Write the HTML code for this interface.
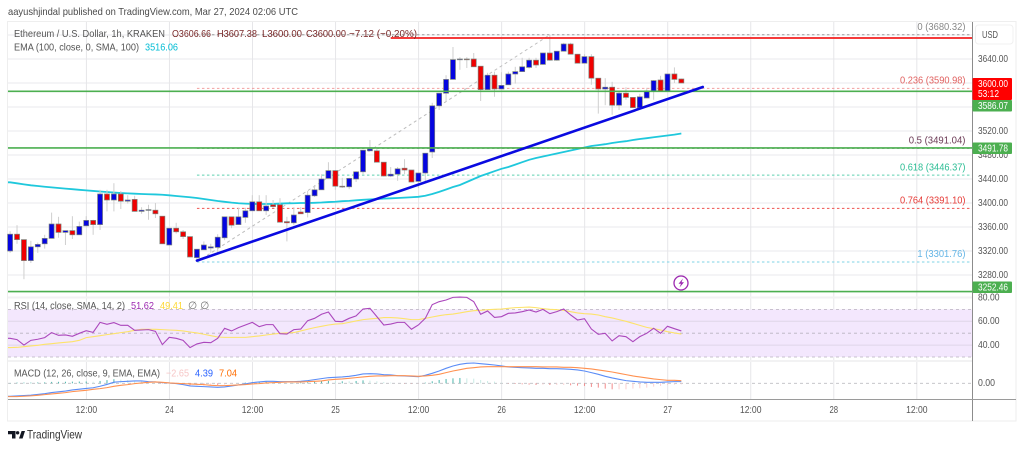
<!DOCTYPE html>
<html lang="en">
<head>
<meta charset="utf-8">
<title>ETH/USD 1h chart</title>
<style>
html,body{margin:0;padding:0;background:#fff;width:1024px;height:449px;overflow:hidden}
svg{display:block}
text{font-family:"Liberation Sans",sans-serif;font-size:10.5px;fill:#555;dominant-baseline:middle}
</style>
</head>
<body>
<svg id="chart" width="1024" height="449" viewBox="0 0 1024 449" xmlns="http://www.w3.org/2000/svg">
  <rect x="7.5" y="21.5" width="1008.5" height="399.5" fill="#fff" stroke="#eeeeee"/>
  <g id="grid"></g>
  <rect x="8" y="296.5" width="964" height="2" fill="#f2f2f3"/>
  <rect x="8" y="360" width="964" height="2" fill="#f2f2f3"/>
  <g id="rsi-band"></g>
  <g id="fib"></g>
  <g id="ema"></g>
  <g id="candles"></g>
  <g id="levels"></g>
  <g id="rsi"></g>
  <g id="macd"></g>

  <line x1="972.5" y1="22" x2="972.5" y2="421" stroke="#8c8c8c"/>
  <line x1="8" y1="399.5" x2="1016" y2="399.5" stroke="#9a9a9a"/>
  <g id="axes"></g>

  <text x="8" y="12" textLength="290" lengthAdjust="spacingAndGlyphs" fill="#444" style="fill:#4a4a4a">aayushjindal published on TradingView.com, Mar 27, 2024 02:06 UTC</text>

  <text x="14" y="34" textLength="151" lengthAdjust="spacingAndGlyphs">Ethereum / U.S. Dollar, 1h, KRAKEN</text>
  <text x="172" y="34" textLength="39" lengthAdjust="spacingAndGlyphs" style="fill:#7a2a2a">O3606.66</text>
  <text x="217" y="34" textLength="40" lengthAdjust="spacingAndGlyphs" style="fill:#7a2a2a">H3607.38</text>
  <text x="262" y="34" textLength="40" lengthAdjust="spacingAndGlyphs" style="fill:#7a2a2a">L3600.00</text>
  <text x="306" y="34" textLength="40" lengthAdjust="spacingAndGlyphs" style="fill:#7a2a2a">C3600.00</text>
  <text x="349" y="34" textLength="68" lengthAdjust="spacingAndGlyphs" style="fill:#7a2a2a">−7.12 (−0.20%)</text>
  <text x="14" y="47.5" textLength="125" lengthAdjust="spacingAndGlyphs">EMA (100, close, 0, SMA, 100)</text>
  <text x="145" y="47.5" textLength="33" lengthAdjust="spacingAndGlyphs" style="fill:#00bcd4">3516.06</text>

  <text x="14" y="306" textLength="111" lengthAdjust="spacingAndGlyphs">RSI (14, close, SMA, 14, 2)</text>
  <text x="131" y="306" textLength="23" lengthAdjust="spacingAndGlyphs" style="fill:#9c27b0">51.62</text>
  <text x="160" y="306" textLength="23" lengthAdjust="spacingAndGlyphs" style="fill:#fdd835">49.41</text>
  <text x="188" y="306" style="fill:#777">∅ ∅</text>

  <text x="14" y="373.5" textLength="146" lengthAdjust="spacingAndGlyphs">MACD (12, 26, close, 9, EMA, EMA)</text>
  <text x="166" y="373.5" textLength="23" lengthAdjust="spacingAndGlyphs" style="fill:#f7c6c6">−2.65</text>
  <text x="195" y="373.5" textLength="18" lengthAdjust="spacingAndGlyphs" style="fill:#2962ff">4.39</text>
  <text x="219" y="373.5" textLength="18" lengthAdjust="spacingAndGlyphs" style="fill:#ff6d00">7.04</text>

  <rect x="975.5" y="25" width="37.5" height="19" rx="3" fill="#fff" stroke="#f0f0f0"/>
  <text x="982" y="35" textLength="16" lengthAdjust="spacingAndGlyphs">USD</text>

  <rect x="972.5" y="78" width="39.5" height="22" rx="1" fill="#ff0000"/>
  <text x="978" y="84" textLength="30" lengthAdjust="spacingAndGlyphs" style="fill:#fff">3600.00</text>
  <text x="978" y="94" textLength="21" lengthAdjust="spacingAndGlyphs" style="fill:#fff">53:12</text>
  <rect x="972.5" y="100" width="39.5" height="11.5" rx="1" fill="#4caf50"/>
  <text x="978" y="106" textLength="30" lengthAdjust="spacingAndGlyphs" style="fill:#fff">3586.07</text>
  <rect x="972.5" y="142.5" width="39.5" height="11.5" rx="1" fill="#4caf50"/>
  <text x="978" y="148.5" textLength="30" lengthAdjust="spacingAndGlyphs" style="fill:#fff">3491.78</text>
  <rect x="972.5" y="281.5" width="39.5" height="11.5" rx="1" fill="#4caf50"/>
  <text x="978" y="287.5" textLength="30" lengthAdjust="spacingAndGlyphs" style="fill:#fff">3252.46</text>

  <g>
    <circle cx="681" cy="283" r="7" fill="#fff" stroke="#9c27b0" stroke-width="1.3"/>
    <polygon points="683,278.5 678.5,283.8 681,283.8 679.5,287.5 684,282.2 681.5,282.2" fill="#9c27b0"/>
  </g>

  <g>
    <polygon points="8,431 15.5,431 15.5,438.5 12,438.5 12,434.2 8,434.2" fill="#131722"/>
    <circle cx="17.6" cy="432.8" r="1.7" fill="#131722"/>
    <polygon points="19,438.5 21.6,431 25,431 22.6,438.5" fill="#131722"/>
    <text x="27" y="435.5" textLength="55" lengthAdjust="spacingAndGlyphs" style="font-size:12px;fill:#333">TradingView</text>
  </g>
</svg>

<script>
const opens = [3320,3348,3339,3304,3327,3332,3341,3365,3351,3354,3347,3362,3371,3364,3415,3405,3415,3403,3406,3386,3388,3388,3378,3330,3358,3352,3344,3309,3322,3325,3326,3342,3377,3364,3376,3387,3402,3387,3397,3397,3369,3367,3385,3384,3412,3422,3441,3454,3428,3427,3440,3452,3487,3487,3468,3445,3448,3458,3455,3436,3450,3485,3562,3583,3606,3639,3640,3640,3628,3589,3613,3590,3597,3615,3619,3626,3638,3631,3650,3638,3653,3665,3648,3633,3644,3608,3590,3593,3563,3583,3576,3559,3575,3587,3605,3587,3615,3606.66];
const highs = [3353,3363,3339,3337,3334,3347,3384,3377,3354,3378,3369,3378,3372,3422,3422,3433,3420,3413,3412,3393,3397,3400,3378,3358,3367,3355,3344,3323,3336,3332,3348,3377,3377,3392,3392,3413,3413,3413,3405,3408,3377,3393,3393,3420,3430,3448,3468,3455,3442,3442,3453,3488,3505,3492,3468,3460,3460,3473,3455,3450,3483,3567,3583,3613,3660,3643,3643,3650,3628,3617,3619,3618,3619,3627,3642,3642,3642,3650,3680,3653,3667,3667,3648,3648,3648,3608,3608,3602,3586,3593,3576,3582,3592,3605,3612,3615,3626,3607.38];
const lows = [3317,3332,3273,3300,3317,3324,3341,3342,3330,3340,3347,3361,3347,3355,3386,3386,3390,3399,3386,3382,3372,3375,3332,3330,3349,3340,3310,3304,3322,3317,3317,3338,3358,3364,3367,3387,3387,3380,3392,3368,3336,3363,3382,3376,3410,3422,3441,3422,3425,3423,3435,3448,3487,3468,3444,3443,3437,3448,3435,3425,3435,3475,3555,3569,3606,3622,3625,3627,3570,3589,3577,3590,3597,3599,3619,3624,3625,3630,3637,3637,3653,3648,3633,3633,3597,3549,3563,3547,3555,3572,3559,3555,3575,3572,3587,3587,3600,3600];
const closes = [3348,3339,3304,3327,3331,3341,3365,3351,3354,3347,3361,3371,3364,3415,3405,3415,3403,3405,3386,3388,3389,3382,3332,3358,3352,3344,3310,3323,3330,3327,3343,3377,3363,3377,3387,3402,3387,3395,3394,3368,3367,3380,3382,3413,3422,3440,3454,3428,3427,3441,3452,3488,3490,3468,3445,3448,3457,3455,3435,3450,3483,3562,3583,3606,3639,3640,3639,3627,3589,3613,3590,3596,3615,3619,3627,3638,3630,3650,3638,3653,3665,3648,3633,3644,3608,3590,3593,3563,3583,3576,3559,3577,3587,3604,3587,3615,3606,3600];
const ema100 = [3434.5,3432.8,3431.1,3429.5,3428.3,3427.1,3426,3425,3424,3423,3422,3421,3420.1,3419.1,3418.3,3417.5,3416.6,3416,3415.5,3415,3414.6,3414.3,3413.8,3412.8,3411.6,3410.6,3409.6,3408.3,3406.6,3405,3403.3,3402,3400.6,3399.6,3399,3398.5,3398.3,3398.3,3398.6,3399.1,3399.5,3399.6,3400,3400,3400.3,3400.8,3401.6,3402.1,3403,3403.6,3404.5,3405.3,3406,3406.6,3407.3,3407.8,3408.3,3409,3409.6,3410.3,3412,3415,3418.6,3422.5,3426.6,3430,3435,3440,3445,3449,3453,3457,3460,3464,3468,3472,3475,3477.5,3480,3482.5,3485,3487.5,3490,3492.5,3495,3496.5,3498,3500,3501.6,3503,3505,3506.6,3508,3509.6,3511,3512.5,3514,3515.8];
const rsiValues = [45.7,44.6,40,44,44.9,46.3,50.5,48.2,48.5,47.4,49.9,52.1,50.7,59.1,57.5,58.9,56.6,56.6,52.4,52.7,53,51.6,40.4,46.5,45.7,44,37.9,41,42.3,42,45.7,54.1,51.9,54.7,56.9,59.1,55.5,57.2,57.2,49.6,49.3,53,53.5,60.5,62.5,65.9,67.8,60,59.7,62.5,64.5,70.3,70.9,63.9,56.9,57.7,59.1,59.1,53.3,56.9,62.5,74,76.5,77.9,80.1,80.4,80.1,76.5,65.9,68.7,63.3,63.9,66.7,67,68.1,69.5,67.8,70,66.4,68.1,70.3,65.3,61.1,62.2,53.5,49.1,49.9,43.5,47.9,47.1,42.9,47.1,49.9,54.1,49.9,55.8,53.8,51.9];
const rsiMa = [37.9,38.1,38.7,39.3,39.8,40.7,41.2,41.8,42.3,42.9,44,46.3,47.1,47.9,48.8,49.6,50.5,51.3,52.4,53.3,53.3,53.3,53,52.7,52.4,51.9,51,50.2,49.1,47.9,46.8,46.5,46.5,46.5,46.5,47.1,47.7,48.5,49.3,49.9,50.2,50.5,51.9,53.3,54.7,55.8,56.9,57.7,58,59.1,60.3,61.4,62,62.5,63.1,63.1,62.8,62.2,61.4,61.4,62.5,63.6,64.7,65.6,66.1,67,68.1,68.9,69.2,69.8,70.1,70.3,70.9,71.5,71.7,72,71.5,70.6,70.1,69.8,69.2,68.1,67,66.4,66.1,65.3,63.9,62.8,61.4,60,58.3,56.6,54.9,53.8,52.7,51.3,50.2,49.3];
const macdLine = [-35,-34,-33,-32,-30,-28,-25,-23,-21,-18,-16,-14,-12,-8,-3,3,4.5,5.4,6.3,6.3,4.5,3.6,1.8,0.9,-0.9,-3.6,-7.2,-8.1,-9,-9.9,-10.8,-9.9,-7.2,-4.5,-1.8,1.8,3.6,5.4,5.4,4.5,4.5,4.5,5.4,7.2,9.9,12.6,15.3,16.2,17.1,18.9,21.6,25.2,26.1,25.2,23.4,22.5,20.7,19.8,18.9,18,21.6,27,33.3,40.5,46.8,51.3,54,54.9,53.1,51.3,49.5,46.8,44.1,43.2,42.3,41.4,40.5,40.5,39.6,39.6,38.7,37.8,36,33.3,28.8,24.3,18.9,14.4,10.8,7.2,5.4,3.6,2.7,2.7,2.7,3.6,4.5,4.5];
const macdSignal = [-36,-36,-35,-34,-32.4,-30.6,-28.8,-27,-25.2,-22.5,-20.7,-18.9,-16.2,-14.4,-11.7,-8.1,-5.4,-3.6,-0.9,0.9,2.7,3.6,2.7,0.9,0,-0.9,-1.8,-2.7,-3.6,-5.4,-6.3,-6.3,-5.4,-4.5,-3.6,-1.8,-0.9,0.9,1.8,2.7,3.6,3.6,3.6,4.5,5.4,6.3,9,10.8,11.7,13.5,15.3,17.1,18.9,19.8,19.8,20.7,20.7,20.7,19.8,18.9,19.8,21.6,24.3,28.8,33.3,36.9,40.5,42.3,44.1,45,45,45,45,45,45,45,45,44.1,44.1,44.1,43.2,43.2,42.3,40.5,38.7,36,33.3,30.6,27,23.4,19.8,17.1,14.4,11.7,9.9,8.1,8.1,7.2];

const priceTicks = [3680,3640,3600,3560,3520,3480,3440,3400,3360,3320,3280];
const priceLabels = [3640,3520,3480,3440,3400,3360,3320,3280];
const rsiTicks = [80,60,40];
const rsiBandEdges = [70,30];
const rsiDashed = [70,50,30];
const rsiGrid = [60,40];
const macdTicks = [0];
const timeTickIndex = [11,23,35,47,59,71,83,95,107,119,131];
const timeTickLabels = ["12:00","24","12:00","25","12:00","26","12:00","27","12:00","28","12:00"];

const fibRatios = ["0","0.236","0.5","0.618","0.764","1"];
const fibPrices = [3680.32,3590.98,3491.04,3446.37,3391.10,3301.76];
const fibLeftIndex = 27;
const fibRightIndex = 78;
const greenLevels = [3586.07,3491.78,3252.46];
const redLevel = [55,3675];
const trendStart = [27,3304];
const trendEnd = [100.1,3593.3];

const NS = "http://www.w3.org/2000/svg";
const PLOT_LEFT = 8, PLOT_RIGHT = 972;
const xAt = i => 10.1 + 6.92 * i;
const yPrice = p => 59 + (3640 - p) * 0.6;
const yRsi = v => 321.3 + (60 - v) * 1.19;
const yMacd = v => 383.3 - v * 0.37;

const grid = document.getElementById("grid");
const band = document.getElementById("rsi-band");
const fib = document.getElementById("fib");
const emaG = document.getElementById("ema");
const candlesG = document.getElementById("candles");
const levelsG = document.getElementById("levels");
const rsiG = document.getElementById("rsi");
const macdG = document.getElementById("macd");
const axesG = document.getElementById("axes");

function mk(tag, parent, attrs, txt) {
  const e = document.createElementNS(NS, tag);
  for (const k in attrs) e.setAttribute(k, attrs[k]);
  if (txt !== undefined) e.textContent = txt;
  parent.appendChild(e);
  return e;
}
function linePath(values, yFn) {
  return "M" + PLOT_LEFT + " " + yFn(values[0]).toFixed(2) + values.map((v, i) => "L" + xAt(i).toFixed(2) + " " + yFn(v).toFixed(2)).join("");
}

let el;

// horizontal price grid
priceTicks.forEach(p => {
  el = mk("line", grid, {x1: PLOT_LEFT, x2: PLOT_RIGHT, y1: yPrice(p), y2: yPrice(p), stroke: "#e9e9ec"});
  
  
});
// RSI band
el = mk("rect", band, {x: PLOT_LEFT, width: PLOT_RIGHT - PLOT_LEFT, y: yRsi(rsiBandEdges[0]), height: yRsi(rsiBandEdges[1]) - yRsi(rsiBandEdges[0]), fill: "#f3e7fd"});


rsiGrid.forEach(v => {
  el = mk("line", band, {x1: PLOT_LEFT, x2: PLOT_RIGHT, y1: yRsi(v), y2: yRsi(v), stroke: "#dfd6e8"});
  
  
});
rsiDashed.forEach(v => {
  el = mk("line", band, {x1: PLOT_LEFT, x2: PLOT_RIGHT, y1: yRsi(v), y2: yRsi(v), stroke: "#b9b3bf", "stroke-dasharray": "3 3", "stroke-width": "0.8"});
  
  
});
// vertical grid
timeTickIndex.forEach(i => {
  el = mk("line", grid, {x1: xAt(i) + 0.2, x2: xAt(i) + 0.2, y1: 22, y2: 399, stroke: "#e6e6e9"});
  
  
});
// MACD zero line
el = mk("line", macdG, {x1: PLOT_LEFT, x2: PLOT_RIGHT, y1: yMacd(0), y2: yMacd(0), stroke: "#bdbdc2", "stroke-dasharray": "3 3", "stroke-width": "0.8"});



// Fibonacci
const fibColors = ["#9a9a9a","#f2a0a0","#8c8c8c","#5fd0b0","#ef5350","#7fd3e6"];
const fibTextColors = ["#888","#e0605f","#6b3a55","#2bbd94","#e53935","#64b5e6"];
fibPrices.forEach((p, k) => {
  el = mk("line", fib, {x1: xAt(fibLeftIndex), x2: PLOT_RIGHT, y1: yPrice(p), y2: yPrice(p), stroke: fibColors[k], "stroke-dasharray": "2.5 2.5"});
  
  
  const fibLabel = fibRatios[k] + " (" + p.toFixed(2) + ")";
  el = mk("text", fib, {x: 965.5, y: yPrice(p) - 7.7, "text-anchor": "end", textLength: (fibLabel.length * 4.37).toFixed(1), lengthAdjust: "spacingAndGlyphs", style: "fill:" + fibTextColors[k]}, fibLabel);
  
  
});
el = mk("line", fib, {x1: xAt(fibLeftIndex), y1: yPrice(fibPrices[5]), x2: xAt(fibRightIndex), y2: yPrice(fibPrices[0]), stroke: "#bdbdbd", "stroke-dasharray": "3 3"});



// EMA
el = mk("path", emaG, {d: linePath(ema100, yPrice), fill: "none", stroke: "#1fc8dc", "stroke-width": "1.8"});



// Candles
closes.forEach((c, i) => {
  const o = opens[i], x = xAt(i);
  const up = c >= o;
  el = mk("line", candlesG, {x1: x, x2: x, y1: yPrice(highs[i]), y2: yPrice(lows[i]), stroke: "#cfcfcf", "stroke-width": "1"});
  
  
  const top = yPrice(Math.max(o, c)), bot = yPrice(Math.min(o, c));
  el = mk("rect", candlesG, {x: x - 2.5, width: 5, y: top, height: Math.max(bot - top, 0.8), fill: up ? "#0505e0" : "#f00000", stroke: "#7c827c", "stroke-width": "0.7"});
  
  
});

// Horizontal levels & trend
greenLevels.forEach(p => {
  el = mk("line", levelsG, {x1: PLOT_LEFT, x2: PLOT_RIGHT, y1: yPrice(p), y2: yPrice(p), stroke: "#4caf50", "stroke-width": "1.6"});
  
  
});
el = mk("line", levelsG, {x1: xAt(redLevel[0]), x2: PLOT_RIGHT, y1: yPrice(redLevel[1]), y2: yPrice(redLevel[1]), stroke: "#f31f1f", "stroke-width": "1.8"});


el = mk("line", levelsG, {x1: xAt(trendStart[0]), y1: yPrice(trendStart[1]), x2: xAt(trendEnd[0]), y2: yPrice(trendEnd[1]), stroke: "#0a0ae0", "stroke-width": "2.6", "stroke-linecap": "round"});



// RSI
el = mk("path", rsiG, {d: linePath(rsiMa, yRsi), fill: "none", stroke: "#fde36a", "stroke-width": "1.1"});


el = mk("path", rsiG, {d: linePath(rsiValues, yRsi), fill: "none", stroke: "#ab47bc", "stroke-width": "1.1"});



// MACD
macdLine.forEach((m, i) => {
  const h = m - macdSignal[i];
  const prev = i ? macdLine[i - 1] - macdSignal[i - 1] : h;
  const rising = h >= prev;
  const color = h >= 0 ? (rising ? "#4db6ac" : "#c8ebe5") : (rising ? "#fbd0d0" : "#f28b8b");
  el = mk("line", macdG, {x1: xAt(i), x2: xAt(i), y1: yMacd(0), y2: yMacd(h), stroke: color, "stroke-width": "1"});
  
  
});
el = mk("path", macdG, {d: linePath(macdLine, yMacd), fill: "none", stroke: "#5b8cf6", "stroke-width": "1.1"});


el = mk("path", macdG, {d: linePath(macdSignal, yMacd), fill: "none", stroke: "#ff9150", "stroke-width": "1.1"});



// Axis labels
priceLabels.forEach(p => {
  el = mk("text", axesG, {x: 978, y: yPrice(p) + 0.3, textLength: 30, lengthAdjust: "spacingAndGlyphs"}, p.toFixed(2));
  
  
});
rsiTicks.forEach(v => {
  el = mk("text", axesG, {x: 978, y: yRsi(v), textLength: 21.5, lengthAdjust: "spacingAndGlyphs"}, v.toFixed(2));
  
  
});
macdTicks.forEach(v => {
  el = mk("text", axesG, {x: 978, y: yMacd(v), textLength: 17, lengthAdjust: "spacingAndGlyphs"}, v.toFixed(2));
  
  
});
timeTickIndex.forEach((i, k) => {
  const tickLabel = timeTickLabels[k];
  el = mk("text", axesG, {x: xAt(i) + 0.2, y: 410, "text-anchor": "middle", textLength: (tickLabel.length * 4.3).toFixed(1), lengthAdjust: "spacingAndGlyphs"}, tickLabel);
  
  
});
</script>
</body>
</html>
